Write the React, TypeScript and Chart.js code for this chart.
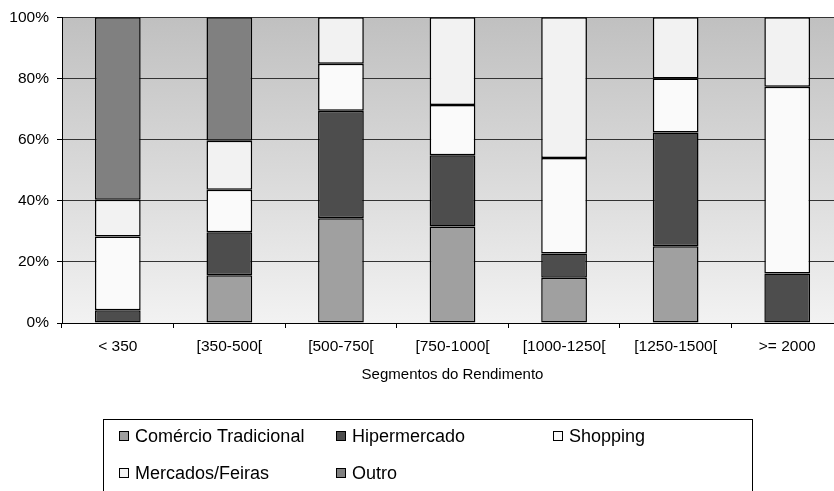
import React, { useEffect, useRef } from "react";
import { Chart, registerables } from "chart.js";

Chart.register(...registerables);

const categories = ["< 350", "[350-500[", "[500-750[", "[750-1000[", "[1000-1250[", "[1250-1500[", ">= 2000"];
const comercioTradicional = [0, 15.6, 34.3, 31.6, 14.8, 25.1, 0];
const hipermercado = [4.2, 14.1, 35.1, 23.3, 7.9, 37.2, 16.2];
const shopping = [24.1, 13.9, 15.4, 16.4, 31.3, 17.7, 61.1];
const mercadosFeiras = [12.0, 16.0, 15.2, 28.7, 46.0, 20.0, 22.7];
const outro = [59.7, 40.4, 0, 0, 0, 0, 0];
const yTicks = [0, 20, 40, 60, 80, 100];
const axisTitle = "Segmentos do Rendimento";

const FONT = "'Liberation Sans', Arial, sans-serif";

const seriesDefs = [
  { label: "Comércio Tradicional", data: comercioTradicional, color: "#a0a0a0" },
  { label: "Hipermercado", data: hipermercado, color: "#4d4d4d" },
  { label: "Shopping", data: shopping, color: "#fafafa" },
  { label: "Mercados/Feiras", data: mercadosFeiras, color: "#f2f2f2" },
  { label: "Outro", data: outro, color: "#808080" },
];

const bgPlugin = {
  id: "bgGradient",
  beforeDraw(chart: any) {
    const { ctx, chartArea } = chart;
    if (!chartArea) return;
    const g = ctx.createLinearGradient(0, chartArea.top, 0, chartArea.bottom);
    g.addColorStop(0, "#c0c0c0");
    g.addColorStop(1, "#f2f2f2");
    ctx.save();
    ctx.fillStyle = g;
    ctx.fillRect(chartArea.left, chartArea.top, chartArea.right - chartArea.left, chartArea.bottom - chartArea.top);
    ctx.restore();
  },
};

const legendPlugin = {
  id: "boxLegend",
  afterDraw(chart: any) {
    const { ctx } = chart;
    const boxLeft = 103.5;
    const boxTop = 419.5;
    const boxRight = 752.5;
    const boxBottom = 520;
    ctx.save();
    ctx.strokeStyle = "#000";
    ctx.lineWidth = 1;
    ctx.fillStyle = "#fff";
    ctx.fillRect(boxLeft, boxTop, boxRight - boxLeft, boxBottom - boxTop);
    ctx.strokeRect(boxLeft, boxTop, boxRight - boxLeft, boxBottom - boxTop);
    const colX = [119, 336, 553];
    const rowY = [436, 473];
    ctx.font = `18px ${FONT}`;
    ctx.textBaseline = "middle";
    ctx.textAlign = "left";
    chart.data.datasets.forEach((ds: any, i: number) => {
      const col = i % 3;
      const row = Math.floor(i / 3);
      const x = colX[col];
      const y = rowY[row];
      ctx.fillStyle = ds.backgroundColor;
      ctx.fillRect(x + 0.5, y - 4.5, 9, 9);
      ctx.strokeStyle = "#000";
      ctx.strokeRect(x + 0.5, y - 4.5, 9, 9);
      ctx.fillStyle = "#000";
      ctx.fillText(ds.label, x + 16, y + 1);
    });
    ctx.restore();
  },
};

export default function App() {
  const ref = useRef<HTMLCanvasElement | null>(null);

  useEffect(() => {
    if (!ref.current) return;
    const chart = new Chart(ref.current, {
      type: "bar",
      data: {
        labels: categories,
        datasets: seriesDefs.map((s) => ({
          label: s.label,
          data: s.data,
          backgroundColor: s.color,
          borderColor: "#000",
          borderWidth: 1.5,
          borderSkipped: false,
          barPercentage: 0.41,
          categoryPercentage: 1,
        })),
      },
      options: {
        responsive: false,
        animation: false,
        layout: { padding: { left: 0, top: 16, right: 7, bottom: 106 } },
        plugins: {
          legend: { display: false },
          tooltip: { enabled: false },
          title: { display: false },
        },
        scales: {
          x: {
            stacked: true,
            offset: true,
            grid: {
              display: true,
              offset: true,
              drawOnChartArea: false,
              drawTicks: true,
              tickLength: 5,
              color: "#000",
            },
            border: { display: true, color: "#000", width: 1 },
            ticks: {
              color: "#000",
              font: { family: FONT, size: 15.5 },
              padding: 9,
              maxRotation: 0,
              autoSkip: false,
            },
            title: {
              display: true,
              text: axisTitle,
              color: "#000",
              font: { family: FONT, size: 15 },
              padding: { top: 0, bottom: 1 },
            },
            afterFit(scale: any) {
              scale.height = 62;
            },
          },
          y: {
            stacked: true,
            min: 0,
            max: 100,
            afterBuildTicks(scale: any) {
              scale.ticks = yTicks.map((v) => ({ value: v }));
            },
            grid: {
              color: "#333",
              lineWidth: 1,
              drawTicks: true,
              tickLength: 5,
              tickColor: "#000",
            },
            border: { display: true, color: "#000", width: 1 },
            ticks: {
              color: "#000",
              font: { family: FONT, size: 15.5 },
              padding: 8,
              callback: (v: any) => `${v}%`,
            },
            afterFit(scale: any) {
              scale.width = 62;
            },
          },
        },
      },
      plugins: [bgPlugin, legendPlugin],
    });
    return () => chart.destroy();
  }, []);

  return (
    <div
      style={{
        position: "absolute",
        left: 0,
        top: 0,
        width: 834,
        height: 491,
        overflow: "hidden",
        background: "#fff",
      }}
    >
      <canvas ref={ref} width={850} height={491} style={{ width: 850, height: 491, display: "block" }} />
    </div>
  );
}
